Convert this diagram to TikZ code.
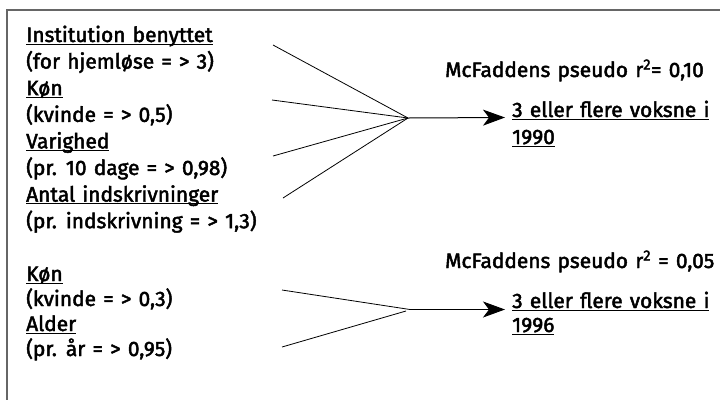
\documentclass[tikz,border=0pt]{standalone}
\usepackage{fontspec}
\setmainfont[FakeBold=2.2,WordSpace=1.3]{Fira Sans}
\usetikzlibrary{arrows.meta}
\newcommand\ulbox[1]{\setbox0\hbox{#1}\rlap{\rule[-2.8pt]{\wd0}{1.2pt}}\box0}
\tikzset{
  lbl/.style={anchor=base west, inner sep=0pt, font=\fontsize{21}{24}\selectfont},
  conn/.style={line width=0.8bp, black},
  arr/.style={line width=1bp, black, -{Stealth[length=22bp,width=16bp,inset=6bp]}},
  frame/.style={line width=1.5bp, black!60}
}
\begin{document}
\begin{tikzpicture}[x=1bp,y=-1bp]
\useasboundingbox (0,0) rectangle (720,399);
\draw[frame] (7,405) -- (7,10) -- (725,10);
% upper block
\node[lbl] (t1) at (26,42) {\ulbox{Institution benyttet}};
\node[lbl] (t2) at (26,68.6) {(for hjemløse = > 3)};
\node[lbl] (t3) at (26,95.2) {\ulbox{Køn}};
\node[lbl] (t4) at (26,121.8) {(kvinde = > 0,5)};
\node[lbl] (t5) at (26,148.4) {\ulbox{Varighed}};
\node[lbl] (t6) at (26,175) {(pr. 10 dage = > 0,98)};
\node[lbl] (t7) at (26,201.6) {\ulbox{Antal indskrivninger}};
\node[lbl] (t8) at (26,228.2) {(pr. indskrivning = > 1,3)};
% lower block
\node[lbl] (b1) at (26,281) {\ulbox{Køn}};
\node[lbl] (b2) at (26,306) {(kvinde = > 0,3)};
\node[lbl] (b3) at (26,331) {\ulbox{Alder}};
\node[lbl] (b4) at (26,356) {(pr. år = > 0,95)};
% right texts
\node[lbl] (m1) at (445,77) {McFaddens pseudo r\textsuperscript{2}= 0,10};
\node[lbl] (o1a) at (512,117) {\ulbox{3 eller flere voksne i}};
\node[lbl] (o1b) at (512,144) {\ulbox{1990}};
\node[lbl] (m2) at (445,268) {McFaddens pseudo r\textsuperscript{2} = 0,05};
\node[lbl] (o2a) at (512,308) {\ulbox{3 eller flere voksne i}};
\node[lbl] (o2b) at (512,332) {\ulbox{1996}};
% connectors upper
\coordinate (hub1) at (408,118);
\coordinate (s1) at (273,45);
\coordinate (s2) at (272,100);
\coordinate (s3) at (273,156);
\coordinate (s4) at (283,198);
\coordinate (e1) at (505,117.5);
\draw[conn] (s1) -- (hub1);
\draw[conn] (s2) -- (hub1);
\draw[conn] (s3) -- (hub1);
\draw[conn] (s4) -- (hub1);
\draw[arr] (hub1) -- (e1);
% connectors lower
\coordinate (hub2) at (410,309.5);
\coordinate (hub2b) at (406,311);
\coordinate (u1) at (282,290);
\coordinate (u2) at (282,347);
\coordinate (e2) at (505,309.5);
\draw[conn] (u1) -- (hub2);
\draw[conn] (u2) -- (hub2b);
\draw[arr] (hub2) -- (e2);
\end{tikzpicture}
\end{document}
